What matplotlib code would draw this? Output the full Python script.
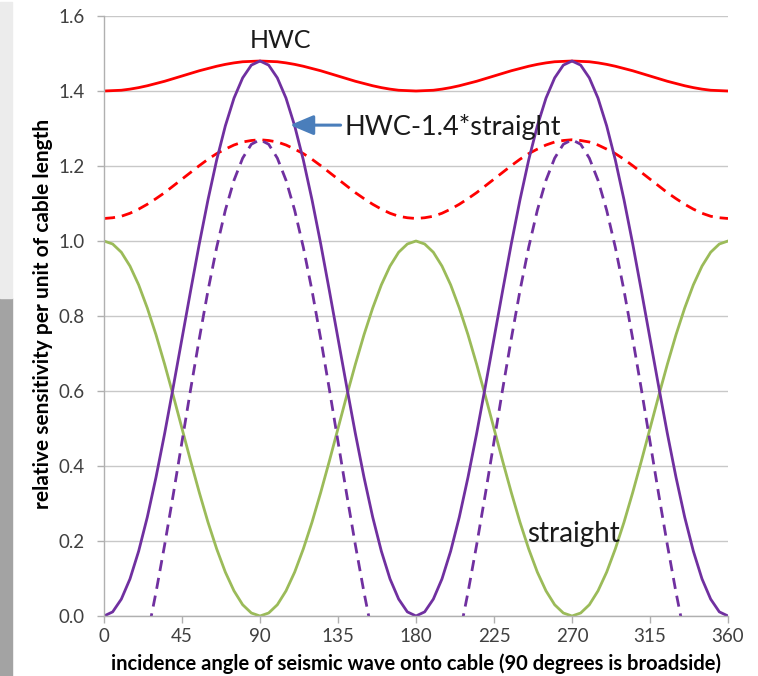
import matplotlib
matplotlib.use('Agg')
import matplotlib.pyplot as plt
from matplotlib.patches import Rectangle
import numpy as np

plt.rcParams['font.family'] = ['Lato', 'DejaVu Sans']

# incidence angle, degrees (every 5 degrees)
angle = list(range(0, 365, 5))

# straight cable
straight = [1.000, 0.992, 0.970, 0.933, 0.883, 0.821, 0.750, 0.671, 0.587, 0.500,
            0.413, 0.329, 0.250, 0.179, 0.117, 0.067, 0.030, 0.008, 0.000, 0.008,
            0.030, 0.067, 0.117, 0.179, 0.250, 0.329, 0.413, 0.500, 0.587, 0.671,
            0.750, 0.821, 0.883, 0.933, 0.970, 0.992, 1.000,
            0.992, 0.970, 0.933, 0.883, 0.821, 0.750, 0.671, 0.587, 0.500,
            0.413, 0.329, 0.250, 0.179, 0.117, 0.067, 0.030, 0.008, 0.000, 0.008,
            0.030, 0.067, 0.117, 0.179, 0.250, 0.329, 0.413, 0.500, 0.587, 0.671,
            0.750, 0.821, 0.883, 0.933, 0.970, 0.992, 1.000]

# helically wound cable
hwc = [1.400, 1.401, 1.402, 1.405, 1.409, 1.414, 1.420, 1.426, 1.433, 1.440,
       1.447, 1.454, 1.460, 1.466, 1.471, 1.475, 1.478, 1.479, 1.480, 1.479,
       1.478, 1.475, 1.471, 1.466, 1.460, 1.454, 1.447, 1.440, 1.433, 1.426,
       1.420, 1.414, 1.409, 1.405, 1.402, 1.401, 1.400,
       1.401, 1.402, 1.405, 1.409, 1.414, 1.420, 1.426, 1.433, 1.440,
       1.447, 1.454, 1.460, 1.466, 1.471, 1.475, 1.478, 1.479, 1.480, 1.479,
       1.478, 1.475, 1.471, 1.466, 1.460, 1.454, 1.447, 1.440, 1.433, 1.426,
       1.420, 1.414, 1.409, 1.405, 1.402, 1.401, 1.400]

# second HWC (dashed red)
hwc2 = [1.060, 1.062, 1.066, 1.074, 1.085, 1.098, 1.113, 1.129, 1.147, 1.165,
        1.183, 1.201, 1.218, 1.233, 1.245, 1.256, 1.264, 1.268, 1.270, 1.268,
        1.264, 1.256, 1.245, 1.233, 1.218, 1.201, 1.183, 1.165, 1.147, 1.129,
        1.113, 1.098, 1.085, 1.074, 1.066, 1.062, 1.060,
        1.062, 1.066, 1.074, 1.085, 1.098, 1.113, 1.129, 1.147, 1.165,
        1.183, 1.201, 1.218, 1.233, 1.245, 1.256, 1.264, 1.268, 1.270, 1.268,
        1.264, 1.256, 1.245, 1.233, 1.218, 1.201, 1.183, 1.165, 1.147, 1.129,
        1.113, 1.098, 1.085, 1.074, 1.066, 1.062, 1.060]

# HWC - 1.4*straight
diff = [0.000, 0.011, 0.045, 0.099, 0.173, 0.264, 0.370, 0.487, 0.612, 0.740,
        0.868, 0.993, 1.110, 1.216, 1.307, 1.381, 1.435, 1.469, 1.480, 1.469,
        1.435, 1.381, 1.307, 1.216, 1.110, 0.993, 0.868, 0.740, 0.612, 0.487,
        0.370, 0.264, 0.173, 0.099, 0.045, 0.011, 0.000,
        0.011, 0.045, 0.099, 0.173, 0.264, 0.370, 0.487, 0.612, 0.740,
        0.868, 0.993, 1.110, 1.216, 1.307, 1.381, 1.435, 1.469, 1.480, 1.469,
        1.435, 1.381, 1.307, 1.216, 1.110, 0.993, 0.868, 0.740, 0.612, 0.487,
        0.370, 0.264, 0.173, 0.099, 0.045, 0.011, 0.000]

# dashed HWC - 1.4*straight
diff2 = [-0.340, -0.328, -0.291, -0.232, -0.152, -0.053, 0.063, 0.190, 0.325, 0.465,
         0.605, 0.740, 0.868, 0.983, 1.082, 1.162, 1.221, 1.258, 1.270, 1.258,
         1.221, 1.162, 1.082, 0.983, 0.868, 0.740, 0.605, 0.465, 0.325, 0.190,
         0.063, -0.053, -0.152, -0.232, -0.291, -0.328, -0.340,
         -0.328, -0.291, -0.232, -0.152, -0.053, 0.063, 0.190, 0.325, 0.465,
         0.605, 0.740, 0.868, 0.983, 1.082, 1.162, 1.221, 1.258, 1.270, 1.258,
         1.221, 1.162, 1.082, 0.983, 0.868, 0.740, 0.605, 0.465, 0.325, 0.190,
         0.063, -0.053, -0.152, -0.232, -0.291, -0.328, -0.340]

xticks = [0, 45, 90, 135, 180, 225, 270, 315, 360]
yticks = [0.0, 0.2, 0.4, 0.6, 0.8, 1.0, 1.2, 1.4, 1.6]

W, H = 758, 676
fig = plt.figure(figsize=(W / 100, H / 100), dpi=100)

# grey photo strip on the left edge
fig.patches.append(Rectangle((0, 0), 12 / W, 378 / H, transform=fig.transFigure,
                             color='#a3a3a3', zorder=0))
fig.patches.append(Rectangle((0, 378 / H), 12 / W, 296 / H, transform=fig.transFigure,
                             color='#ececec', zorder=0))

ax = fig.add_axes([104 / W, 60 / H, 624 / W, 600 / H])

lw = 2.0
dash = (0, (4, 2.5))
ax.plot(angle, hwc, color='#ff0000', lw=lw)
ax.plot(angle, hwc2, color='#ff0000', lw=lw, linestyle=dash)
ax.plot(angle, straight, color='#9bbb59', lw=lw)
ax.plot(angle, diff, color='#7030a0', lw=lw)
ax.plot(angle, diff2, color='#7030a0', lw=lw, linestyle=dash)

ax.set_xlim(0, 360)
ax.set_ylim(0, 1.6)
ax.set_xticks(xticks)
ax.set_yticks(yticks)
ax.set_yticklabels(['%.1f' % v for v in yticks])
ax.grid(axis='y', color='#c8c8c8', lw=1.0)
ax.set_axisbelow(True)

for s in ['top', 'right']:
    ax.spines[s].set_visible(False)
for s in ['left', 'bottom']:
    ax.spines[s].set_color('#b0b0b0')
    ax.spines[s].set_linewidth(1.0)
ax.tick_params(axis='both', colors='#b0b0b0', labelcolor='#404040',
               labelsize=13.5, length=5, width=1.0, direction='out')
ax.tick_params(axis='y', pad=9)
ax.tick_params(axis='x', pad=4)

ax.set_xlabel('incidence angle of seismic wave onto cable (90 degrees is broadside)',
              fontsize=14.5, fontweight='bold', color='black')
ax.set_ylabel('relative sensitivity per unit of cable length',
              fontsize=15, fontweight='bold', color='black')
ax.xaxis.set_label_coords(0.5, -0.08)
ax.xaxis.label.set_va('center')
ax.yaxis.set_label_coords(-0.098, 0.503)
ax.yaxis.label.set_va('center')

ax.text(102, 1.515, 'HWC', fontsize=18, color='#1a1a1a', ha='center', va='baseline')
ax.text(138.5, 1.283, 'HWC-1.4*straight', fontsize=19.5, color='#1a1a1a',
        ha='left', va='baseline')
ax.text(244, 0.198, 'straight', fontsize=20, color='#1a1a1a', ha='left', va='baseline')
ax.annotate('', xy=(107.3, 1.309), xytext=(136.5, 1.309),
            arrowprops=dict(arrowstyle='-|>,head_length=0.95,head_width=0.4',
                            mutation_scale=15, lw=2.2, color='#4a7ebb',
                            shrinkA=0, shrinkB=0))

fig.savefig('out.png', dpi=100)
